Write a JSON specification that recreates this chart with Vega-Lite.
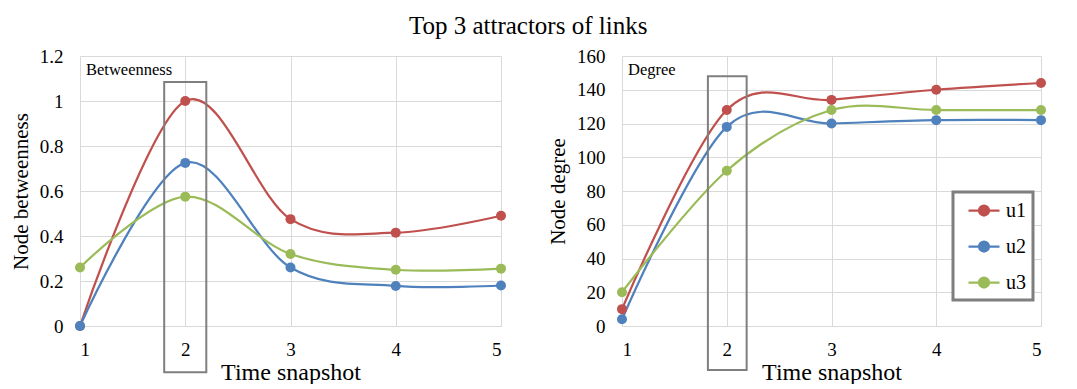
{
  "$schema": "https://vega.github.io/schema/vega-lite/v6.json",
  "padding": {"left": 10, "top": 14, "right": 5, "bottom": 0},
  "background": "white",
  "title": {"text": "Top 3 attractors of links", "font": "Liberation Serif", "fontSize": 25, "fontWeight": "normal", "color": "#000000", "anchor": "middle", "offset": 8},
  "config": {
    "view": {"stroke": null},
    "axis": {"labelFont": "Liberation Serif", "titleFont": "Liberation Serif", "labelColor": "#000000", "titleColor": "#000000", "titleFontWeight": "normal", "gridColor": "#d9d9d9", "gridWidth": 1, "domain": false, "ticks": false, "labelOverlap": false},
    "concat": {"spacing": 41}
  },
  "datasets": {
    "btw": [
      {"t": 1, "s": "u1", "v": 0}, {"t": 2, "s": "u1", "v": 1.0}, {"t": 3, "s": "u1", "v": 0.475}, {"t": 4, "s": "u1", "v": 0.415}, {"t": 5, "s": "u1", "v": 0.49},
      {"t": 1, "s": "u2", "v": 0}, {"t": 2, "s": "u2", "v": 0.725}, {"t": 3, "s": "u2", "v": 0.26}, {"t": 4, "s": "u2", "v": 0.178}, {"t": 5, "s": "u2", "v": 0.18},
      {"t": 1, "s": "u3", "v": 0.26}, {"t": 2, "s": "u3", "v": 0.575}, {"t": 3, "s": "u3", "v": 0.32}, {"t": 4, "s": "u3", "v": 0.25}, {"t": 5, "s": "u3", "v": 0.255}
    ],
    "deg": [
      {"t": 1, "s": "u1", "v": 10}, {"t": 2, "s": "u1", "v": 128}, {"t": 3, "s": "u1", "v": 134}, {"t": 4, "s": "u1", "v": 140}, {"t": 5, "s": "u1", "v": 144},
      {"t": 1, "s": "u2", "v": 4}, {"t": 2, "s": "u2", "v": 118}, {"t": 3, "s": "u2", "v": 120}, {"t": 4, "s": "u2", "v": 122}, {"t": 5, "s": "u2", "v": 122},
      {"t": 1, "s": "u3", "v": 20}, {"t": 2, "s": "u3", "v": 92}, {"t": 3, "s": "u3", "v": 128}, {"t": 4, "s": "u3", "v": 128}, {"t": 5, "s": "u3", "v": 128}
    ]
  },
  "resolve": {"legend": {"color": "independent"}},
  "hconcat": [
    {
      "width": 421, "height": 270,
      "encoding": {
        "x": {"field": "t", "type": "quantitative", "scale": {"domain": [1, 5], "nice": false}, "axis": {"values": [1, 2, 3, 4, 5], "format": "d", "title": "Time snapshot", "labelFontSize": 19, "titleFontSize": 24, "labelPadding": 14, "titlePadding": 1}},
        "y": {"field": "v", "type": "quantitative", "scale": {"domain": [0, 1.2], "nice": false}, "axis": {"values": [0, 0.2, 0.4, 0.6, 0.8, 1, 1.2], "format": "~g", "title": "Node betweenness", "labelFontSize": 19, "titleFontSize": 21, "labelPadding": 17, "titlePadding": 8}}
      },
      "layer": [
        {
          "data": {"name": "btw"},
          "mark": {"type": "line", "interpolate": "cardinal", "tension": 0, "strokeWidth": 2.25},
          "encoding": {
            "color": {"field": "s", "type": "nominal", "scale": {"domain": ["u1", "u2", "u3"], "range": ["#c0504d", "#4f81bd", "#9bbb59"]}, "legend": null}
          }
        },
        {
          "data": {"name": "btw"},
          "mark": {"type": "point", "filled": true, "size": 100, "opacity": 1},
          "encoding": {
            "color": {"field": "s", "type": "nominal", "legend": null}
          }
        },
        {
          "data": {"values": [{"t": 1.8, "t2": 2.2, "v": -0.205, "v2": 1.085}]},
          "mark": {"type": "rect", "fill": null, "fillOpacity": 0, "stroke": "#7f7f7f", "strokeWidth": 2, "clip": false},
          "encoding": {"x2": {"field": "t2"}, "y2": {"field": "v2"}}
        },
        {
          "data": {"values": [{"t": 1, "v": 1.2, "label": "Betweenness"}]},
          "mark": {"type": "text", "align": "left", "baseline": "top", "dx": 6, "dy": 6, "font": "Liberation Serif", "fontSize": 16.5, "color": "#000000"},
          "encoding": {"text": {"field": "label"}}
        }
      ]
    },
    {
      "width": 419, "height": 270,
      "encoding": {
        "x": {"field": "t", "type": "quantitative", "scale": {"domain": [1, 5], "nice": false}, "axis": {"values": [1, 2, 3, 4, 5], "format": "d", "title": "Time snapshot", "labelFontSize": 19, "titleFontSize": 24, "labelPadding": 14, "titlePadding": 1}},
        "y": {"field": "v", "type": "quantitative", "scale": {"domain": [0, 160], "nice": false}, "axis": {"values": [0, 20, 40, 60, 80, 100, 120, 140, 160], "tickCount": 9, "title": "Node degree", "labelFontSize": 19, "titleFontSize": 21, "labelPadding": 17, "titlePadding": 8}}
      },
      "layer": [
        {
          "data": {"name": "deg"},
          "mark": {"type": "line", "interpolate": "cardinal", "tension": 0, "strokeWidth": 2.25},
          "encoding": {
            "color": {"field": "s", "type": "nominal", "scale": {"domain": ["u1", "u2", "u3"], "range": ["#c0504d", "#4f81bd", "#9bbb59"]}, "legend": {
              "title": null, "orient": "none", "legendX": 331, "legendY": 136,
              "padding": 7, "strokeColor": "#7f7f7f", "fillColor": "white",
              "labelFont": "Liberation Serif", "labelFontSize": 20, "labelColor": "#000000", "labelOffset": 23,
              "rowPadding": 14, "symbolSize": 400,
              "symbolType": "M-0.3,0L2.8,0M0.75,0A0.5,0.5 0 1,0 1.75,0A0.5,0.5 0 1,0 0.75,0Z",
              "encode": {
                "legend": {"update": {"strokeWidth": {"value": 3}}},
                "symbols": {"update": {
                "fill": {"signal": "datum.value === 'u1' ? '#c0504d' : datum.value === 'u2' ? '#4f81bd' : '#9bbb59'"},
                "stroke": {"signal": "datum.value === 'u1' ? '#c0504d' : datum.value === 'u2' ? '#4f81bd' : '#9bbb59'"},
                "strokeWidth": {"value": 2.25},
                "opacity": {"value": 1}
              }}}
            }}
          }
        },
        {
          "data": {"name": "deg"},
          "mark": {"type": "point", "filled": true, "size": 100, "opacity": 1},
          "encoding": {
            "color": {"field": "s", "type": "nominal"}
          }
        },
        {
          "data": {"values": [{"t": 1.82, "t2": 2.19, "v": -26, "v2": 148}]},
          "mark": {"type": "rect", "fill": null, "fillOpacity": 0, "stroke": "#7f7f7f", "strokeWidth": 2, "clip": false},
          "encoding": {"x2": {"field": "t2"}, "y2": {"field": "v2"}}
        },
        {
          "data": {"values": [{"t": 1, "v": 160, "label": "Degree"}]},
          "mark": {"type": "text", "align": "left", "baseline": "top", "dx": 6, "dy": 6, "font": "Liberation Serif", "fontSize": 16.5, "color": "#000000"},
          "encoding": {"text": {"field": "label"}}
        }
      ]
    }
  ]
}
